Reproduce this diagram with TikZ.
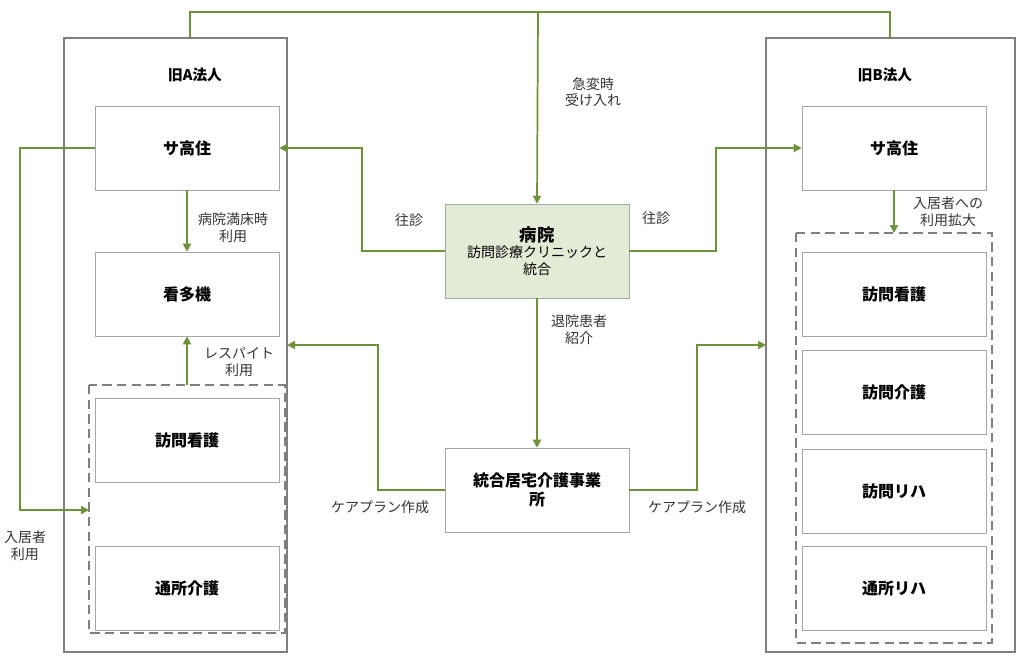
\documentclass[tikz,border=0pt]{standalone}
\usepackage{fontspec}
\setmainfont{Noto Sans CJK JP}
\usetikzlibrary{arrows.meta, calc}
\definecolor{LineGreen}{HTML}{6F9139}
\definecolor{BoxGray}{HTML}{A6A6A6}
\definecolor{FrameGray}{HTML}{7F7F7F}
\definecolor{HospFill}{HTML}{E2EBD5}

\tikzset{
  unit/.style={draw=BoxGray, fill=white, minimum width=184\px, minimum height=84\px, font=\bfseries\fontsize{12}{14}\selectfont, align=center, inner sep=0pt},
  frame/.style={draw=FrameGray, line width=1.5pt},
  group/.style={draw=FrameGray, line width=1.5pt, dash pattern=on 7pt off 4pt},
  link/.style={draw=LineGreen, line width=1.3pt},
  flow/.style={link, -{Triangle[length=6pt, width=6pt]}},
  note/.style={font=\fontsize{10.5}{12.5}\selectfont, align=center, text=black!80},
}
\newlength{\px}
\setlength{\px}{0.75pt}

\begin{document}
\begin{tikzpicture}[x=0.75pt, y=-0.75pt]
  \useasboundingbox (0,0) rectangle (1024,669);

  % corporations
  \draw[frame] (64,38) rectangle (287,652);
  \draw[frame] (766,38) rectangle (1015,652);
  \node[font=\bfseries\fontsize{11}{13}\selectfont] (corpA) at (195,75) {旧A法人};
  \node[font=\bfseries\fontsize{11}{13}\selectfont] (corpB) at (885,75) {旧B法人};
  \coordinate (frameAtop) at (190,38);
  \coordinate (frameBtop) at (890,38);
  \coordinate (frameAside) at (287,345);
  \coordinate (frameBside) at (766,345);

  % old A
  \node[unit] (sakoA) at (187,148) {サ高住};
  \node[unit] (kantaki) at (187,294) {看多機};
  \draw[group] (89,385) rectangle (285,633);
  \coordinate (groupAtop) at (187,385);
  \coordinate (groupAleft) at (89,510);
  \node[unit] (homonA) at (187,440) {訪問看護};
  \node[unit] (tsushoA) at (187,588) {通所介護};

  % old B
  \node[unit] (sakoB) at (894,148) {サ高住};
  \draw[group] (796,233) rectangle (992,643);
  \coordinate (groupBtop) at (894,233);
  \node[unit] (kangoB) at (894,294) {訪問看護};
  \node[unit] (kaigoB) at (894,392) {訪問介護};
  \node[unit] (rihaB) at (894,491) {訪問リハ};
  \node[unit] (tsushoB) at (894,588) {通所リハ};

  % center
  \node[unit, fill=HospFill, minimum height=94\px, font=\fontsize{10.5}{12.5}\selectfont] (hosp) at (537,251)
    {{\bfseries\fontsize{13}{15}\selectfont 病院}\\訪問診療クリニックと\\統合};
  \node[unit] (kyotaku) at (537,490) {統合居宅介護事業\\所};

  % connectors
  \draw[link] (frameAtop) |- (190,12) -| (frameBtop);
  \draw[flow] (538,12) -- (hosp.north);
  \node[note] (lblKyuhen) at (593,92) {急変時\\受け入れ};

  \draw[flow] (hosp.west) -| (362,148) -- (sakoA.east);
  \node[note] (lblOshinA) at (409,220) {往診};
  \draw[flow] (hosp.east) -| (716,148) -- (sakoB.west);
  \node[note] (lblOshinB) at (656,218) {往診};

  \draw[flow] (hosp.south) -- (kyotaku.north);
  \node[note] (lblTaiin) at (579,330) {退院患者\\紹介};

  \draw[flow] (kyotaku.west) -| (378,345) -- (frameAside);
  \node[note] (lblPlanA) at (380,507) {ケアプラン作成};
  \draw[flow] (kyotaku.east) -| (697,345) -- (frameBside);
  \node[note] (lblPlanB) at (697,507) {ケアプラン作成};

  \draw[flow] (sakoA.west) -| (20,510) -- (groupAleft);
  \node[note] (lblNyukyo) at (25,546) {入居者\\利用};

  \draw[flow] (sakoA.south) -- (kantaki.north);
  \node[note] (lblManshou) at (233,228) {病院満床時\\利用};
  \draw[flow] (groupAtop) -- (kantaki.south);
  \node[note] (lblRespite) at (239,362) {レスパイト\\利用};

  \draw[flow] (sakoB.south) -- (groupBtop);
  \node[note] (lblKakudai) at (948,212) {入居者への\\利用拡大};
\end{tikzpicture}
\end{document}
